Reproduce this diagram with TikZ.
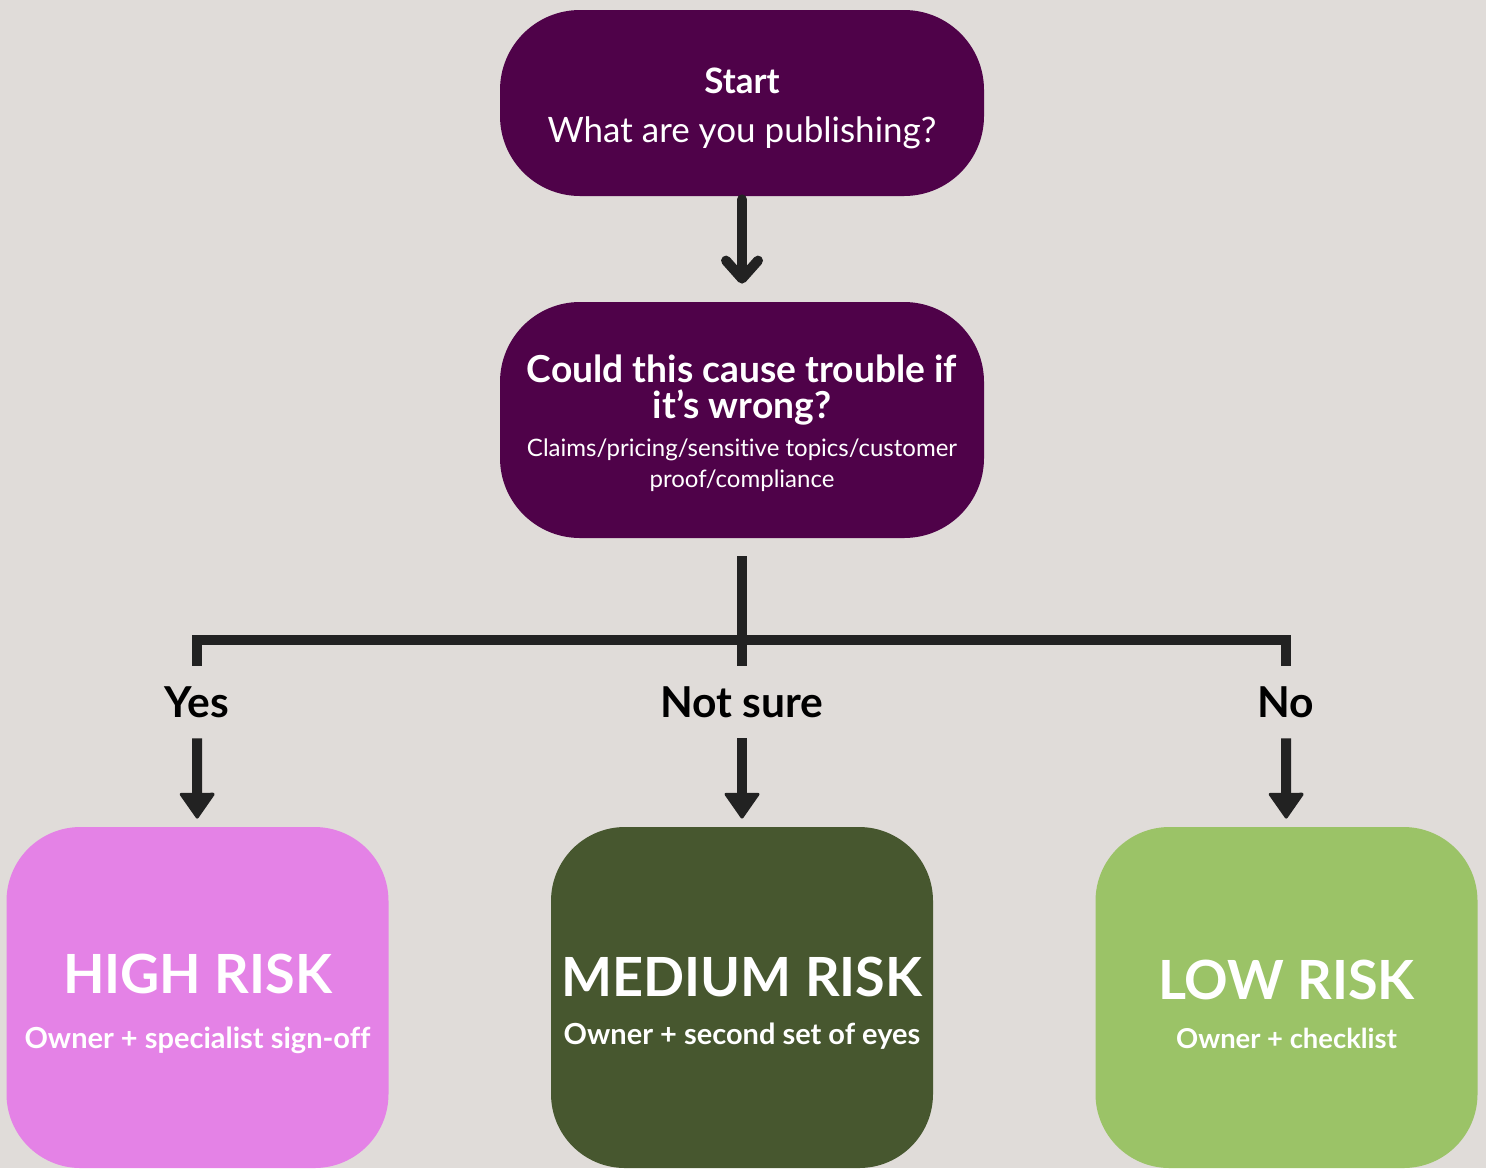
\documentclass[tikz,border=0pt]{standalone}
\usepackage{fontspec}
\setmainfont{Lato}[Ligatures=NoCommon]
\usetikzlibrary{arrows.meta}
\setlength\lineskiplimit{-20pt}
\definecolor{paper}{HTML}{E0DCD9}
\definecolor{plum}{HTML}{4F0249}
\definecolor{orchid}{HTML}{E482E6}
\definecolor{moss}{HTML}{47572F}
\definecolor{sprout}{HTML}{9BC367}
\definecolor{ink}{HTML}{222222}
\newcommand\asktitle{\fontsize{18.6}{18}\selectfont\bfseries}
\newcommand\asknote{\fontsize{12}{15.5}\selectfont\mdseries}
\newcommand\headfont{\fontsize{27}{27.5}\selectfont\bfseries}
\newcommand\notefont{\fontsize{14.5}{27.5}\selectfont\bfseries}
\tikzset{
	box/.style={rounded corners=40pt, minimum width=242pt, inner sep=0pt, text=white, align=center},
	riskbox/.style={rounded corners=37pt, minimum width=191pt, minimum height=170.5pt, inner sep=0pt, text=white, align=center, font=\fontsize{14.5}{27.5}\selectfont},
	answer/.style={inner sep=0pt, minimum height=36pt, font=\fontsize{21.3}{24}\selectfont\bfseries, text=black},
	branch/.style={ink, line width=5pt},
	pointer/.style={ink, line width=5pt, -{Triangle[round, line width=1.5pt, length=13.5pt, width=18.5pt]}},
	opener/.style={ink, line width=5pt, line cap=round, -{Straight Barb[round,length=9pt,width=16pt]}}
}

\begin{document}
\begin{tikzpicture}[x=0.5pt, y=-0.5pt]
		%%%%% START %%%%%
		
		\fill[paper] (0, 0) rectangle (1486, 1168);
		\useasboundingbox (0, 0) rectangle (1486, 1168);
		
		\node[box, fill=plum, minimum height=93pt, font=\fontsize{17.5}{24.5}\selectfont] (start) at (742, 103) {\rule{0pt}{17.8pt}\bfseries Start\\\mdseries What are you publishing?};
		\node[box, fill=plum, minimum height=118pt, font=\fontsize{12}{15.5}\selectfont] (ask) at (742, 420) {\rule{0pt}{17pt}\asktitle Could this cause trouble if\\[2.5pt]\asktitle it’s wrong?\\[3.5pt]\asknote Claims/pricing/sensitive topics/customer\\\asknote proof/compliance};
		
		\draw[opener, shorten <=1.5pt, shorten >=9pt] (start) -- (ask);
		
		\node[answer] (yes) at (197, 702) {Yes};
		\node[answer] (unsure) at (742, 702) {Not sure};
		\node[answer] (no) at (1286, 702) {No};
		
		\coordinate (bar) at (742, 640);
		\draw[branch, shorten <=9pt] (ask) -- (unsure);
		\draw[branch] (yes) |- (bar) -| (no);
		
		\node[riskbox, fill=orchid] (high) at (197.5, 997.5) {\rule{0pt}{25.7pt}\headfont HIGH RISK\\\notefont Owner + specialist sign-off};
		\node[riskbox, fill=moss] (medium) at (742, 997.5) {\rule{0pt}{25.2pt}\headfont MEDIUM RISK\\[-3.5pt]\notefont Owner + second set of eyes};
		\node[riskbox, fill=sprout] (low) at (1286.5, 997.5) {\rule{0pt}{26.7pt}\headfont LOW RISK\\[-3pt]\notefont\fontsize{13.7}{27.5}\selectfont Owner + checklist};
		
		\draw[pointer, shorten >=4pt] (yes) -- (high);
		\draw[pointer, shorten >=4pt] (unsure) -- (medium);
		\draw[pointer, shorten >=4pt] (no) -- (low);
		
		%%%%% END %%%%%
\end{tikzpicture}
\end{document}
